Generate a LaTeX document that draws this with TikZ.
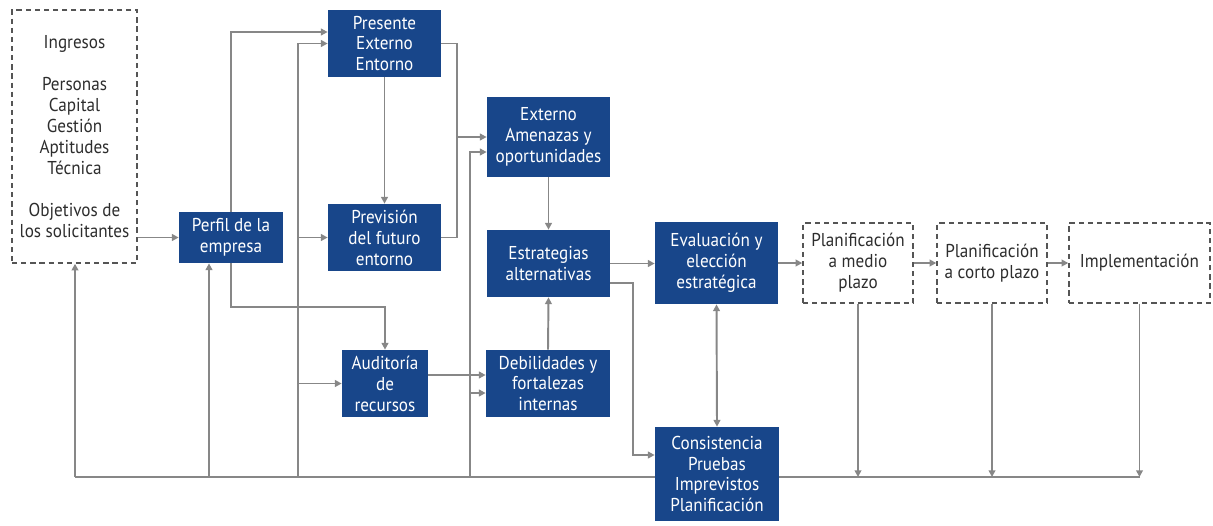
\documentclass[tikz,border=0pt]{standalone}
\usepackage{fontspec}
\setmainfont[FakeStretch=0.92]{PT Sans}
\usetikzlibrary{arrows.meta,calc,backgrounds}
\definecolor{boxblue}{RGB}{24,70,138}
\definecolor{linegray}{RGB}{135,135,135}
\definecolor{dashgray}{RGB}{85,85,85}
\definecolor{txtgray}{RGB}{45,45,45}
\tikzset{
  bluebox/.style={fill=boxblue,draw=none,text=white,align=center,inner sep=0pt,
    font=\fontsize{10.6}{11.9}\selectfont},
  dashbox/.style={draw=dashgray,line width=0.8pt,dash pattern=on 3pt off 2.2pt,
    text=txtgray,align=center,inner sep=0pt,font=\fontsize{10.6}{11.9}\selectfont},
  conn/.style={draw=linegray,line width=1.1pt},
  arr/.style={conn,-{Triangle[length=3.8pt,width=3.8pt]}},
  darr/.style={conn,{Triangle[length=3.8pt,width=3.8pt]}-{Triangle[length=3.8pt,width=3.8pt]}},
}
\begin{document}
\begin{tikzpicture}[x=0.02cm,y=-0.02cm]
\useasboundingbox (0,0) rectangle (1213,525);
% nodes
\node[dashbox,minimum width=125*0.02cm,minimum height=253*0.02cm] (inp) at (74.5,136.5)
  {Ingresos\\~\\Personas\\Capital\\Gestión\\Aptitudes\\Técnica\\~\\Objetivos de\\los solicitantes};
\node[bluebox,minimum width=104*0.02cm,minimum height=51*0.02cm] (perfil) at (231,237.5) {Perfil de la\\empresa};
\node[bluebox,minimum width=113*0.02cm,minimum height=67*0.02cm] (pres) at (384.5,43.5) {Presente\\Externo\\Entorno};
\node[bluebox,minimum width=113*0.02cm,minimum height=67*0.02cm] (prev) at (384.5,237.5) {Previsión\\del futuro\\entorno};
\node[bluebox,minimum width=123*0.02cm,minimum height=80*0.02cm] (ext) at (548.5,137) {Externo\\Amenazas y\\oportunidades};
\node[bluebox,minimum width=123*0.02cm,minimum height=67*0.02cm] (estr) at (548.5,263.5) {Estrategias\\alternativas};
\node[bluebox,minimum width=123*0.02cm,minimum height=82*0.02cm] (eval) at (716.5,263) {Evaluación y\\elección\\estratégica};
\node[bluebox,minimum width=86*0.02cm,minimum height=67*0.02cm] (aud) at (385,383.5) {Auditoría\\de\\recursos};
\node[bluebox,minimum width=124*0.02cm,minimum height=67*0.02cm] (deb) at (548,383.5) {Debilidades y\\fortalezas\\internas};
\node[bluebox,minimum width=124*0.02cm,minimum height=94*0.02cm] (cons) at (717,474) {Consistencia\\Pruebas\\Imprevistos\\Planificación};
\node[dashbox,minimum width=110*0.02cm,minimum height=80*0.02cm] (pm) at (858,263) {Planificación\\a medio\\plazo};
\node[dashbox,minimum width=110*0.02cm,minimum height=80*0.02cm] (pc) at (992,263) {Planificación\\a corto plazo};
\node[dashbox,minimum width=141*0.02cm,minimum height=80*0.02cm] (imp) at (1139.5,263) {Implementación};
% coordinates
\coordinate (bL) at (75,477);
\coordinate (bR) at (1140,477);
\coordinate (b209) at (209,477);
\coordinate (b298) at (298,477);
\coordinate (b470) at (470,477);
\coordinate (j1) at (457,137);
\coordinate (k) at (633,455);
\begin{scope}[on background layer]
\draw[conn] (bL) -- (bR);
\draw[arr] (bL) -- (bL |- inp.south);
\draw[arr] (b209) -- (b209 |- perfil.south);
\draw[arr] (b298) |- (pres.west);
\draw[arr] (prev.west -| b298) -- (prev.west);
\draw[arr] (aud.west -| b298) -- (aud.west);
\draw[arr] (b470) |- ($(ext.west)+(0,15)$);
\path ($(deb.west)+(0,9.5)$) coordinate (d2);
\draw[arr] (d2 -| b470) -- (d2);
\end{scope}
\draw[arr] (inp.east |- perfil.west) -- (perfil.west);
\draw[arr] (perfil.north) |- ($(pres.west)+(0,-11.5)$);
\draw[arr] (perfil.south) -- ++(0,44) -| (aud.north);
\draw[arr] (pres.south) -- (prev.north);
\draw[arr] (pres.east) -| (j1) -- (ext.west);
\draw[conn] (prev.east) -| (j1);
\draw[arr] ($(aud.east)+(0,-8.5)$) -- ($(deb.west)+(0,-8.5)$);
\draw[arr] (ext.south) -- (estr.north);
\draw[arr] (deb.north) -- (estr.south);
\draw[arr] (estr.east) -- (eval.west |- estr.east);
\draw[arr] ($(estr.east)+(0,19.5)$) -| (k) -- (k -| cons.west);
\draw[darr] (eval.south) -- (cons.north);
\draw[arr] (eval.east) -- (pm.west);
\draw[arr] (pm.east) -- (pc.west);
\draw[arr] (pc.east) -- (imp.west);
\draw[arr] (pm.south) -- (pm.south |- bR);
\draw[arr] (pc.south) -- (pc.south |- bR);
\draw[arr] (imp.south) -- (imp.south |- bR);
\end{tikzpicture}
\end{document}
